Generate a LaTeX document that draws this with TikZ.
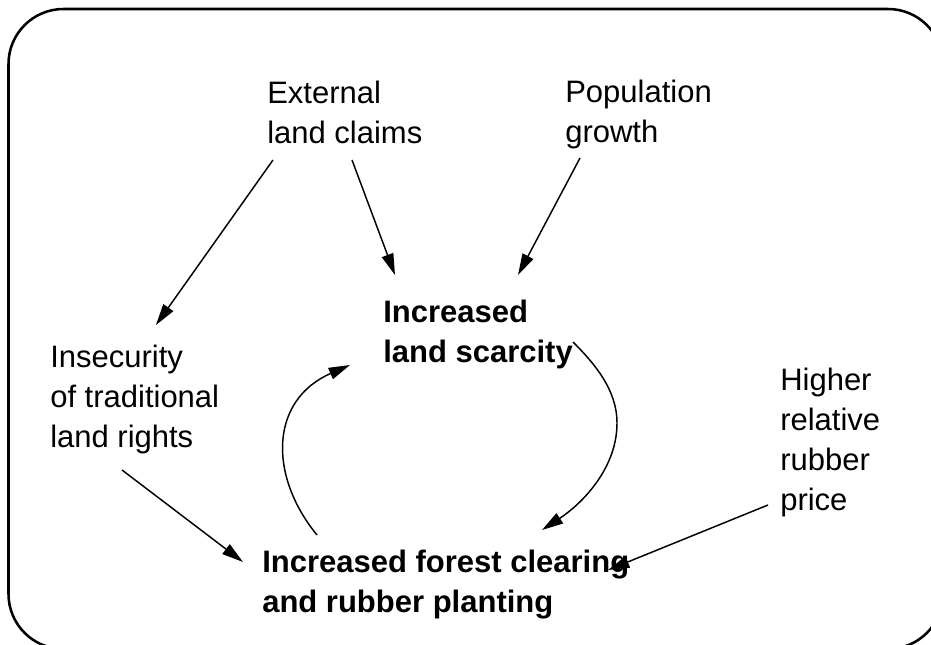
\documentclass[tikz,border=0pt]{standalone}
\usepackage{fontspec}
\setmainfont{Liberation Sans}
\usetikzlibrary{arrows.meta,calc}
\tikzset{
  lbl/.style={anchor=north west,inner sep=0pt,align=left,font=\fontsize{23.25}{30}\selectfont},
  blbl/.style={lbl,font=\fontsize{23.25}{30}\selectfont\bfseries},
  arr/.style={line width=1.1pt,-{Triangle[length=16pt,width=9pt]}},
  frame/.style={line width=1.9pt,rounded corners=41.25pt}
}
\begin{document}
\begin{tikzpicture}[x=0.75pt,y=-0.75pt]
\useasboundingbox (0,0) rectangle (931,645);
\begin{scope}
\clip (0,0) rectangle (931,645);
\draw[frame] (8.5,9) rectangle (943,649);
\end{scope}
\node[lbl] (ext) at (267,81) {External\\land claims};
\node[lbl] (pop) at (565,80) {Population\\growth};
\node[lbl] (ins) at (50,345) {Insecurity\\of traditional\\land rights};
\node[lbl] (hig) at (780,368) {Higher\\relative\\rubber\\price};
\node[blbl] (scar) at (383,300) {Increased\\land scarcity};
\node[blbl] (for) at (262,550) {Increased forest clearing\\and rubber planting};
% straight arrows
\draw[arr] ($(ext.north west)+(6,79)$) -- ($(ins.north west)+(106,-20)$);
\draw[arr] ($(ext.north west)+(85,79)$) -- ($(scar.north west)+(12,-25)$);
\draw[arr] ($(pop.north west)+(15,78)$) -- ($(scar.north west)+(135,-25)$);
\draw[arr] ($(ins.north west)+(72,125)$) -- ($(for.north west)+(-19,12)$);
\draw[arr] ($(hig.north west)+(-12,137)$) -- ($(for.north west)+(346,20)$);
% feedback loop
\draw[arr] ($(scar.north west)+(190,42)$)
   .. controls ($(scar.north west)+(212,64)$) and ($(scar.north west)+(234,90)$) .. ($(scar.north west)+(234,123)$)
   .. controls ($(scar.north west)+(234,170)$) and ($(for.north west)+(318,-45)$) .. ($(for.north west)+(280,-20)$);
\draw[arr] ($(for.north west)+(55,-15)$)
   .. controls ($(for.north west)+(6,-75)$) and ($(for.north west)+(8,-150)$) .. ($(scar.north west)+(-33,65)$);
\end{tikzpicture}
\end{document}
